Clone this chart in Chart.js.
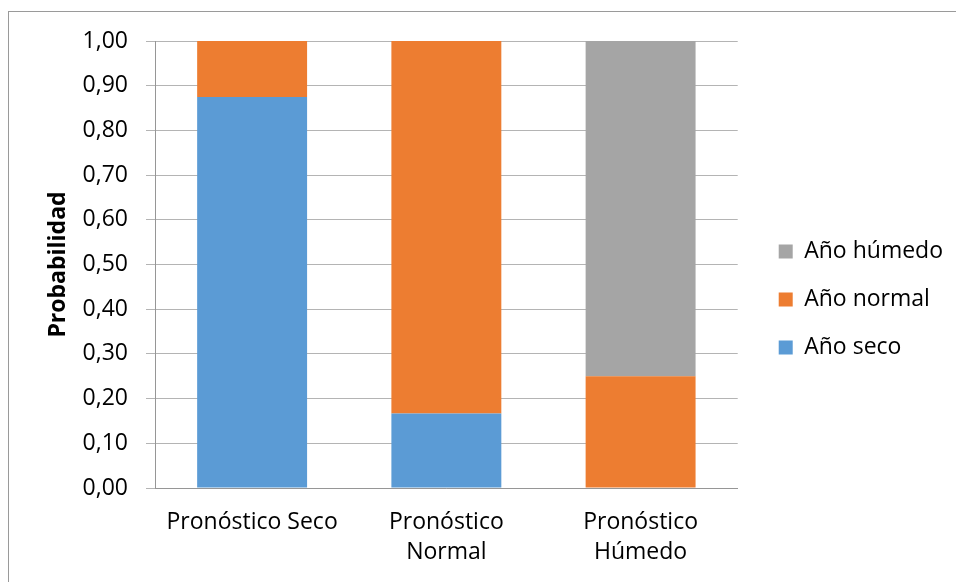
<!DOCTYPE html>
<html lang="es">
<head>
    <meta charset="UTF-8">
    <script src="https://cdn.jsdelivr.net/npm/chart.js"></script>
    <style>
        body { margin: 0; background: #fff; }
        #wrap { position: relative; width: 956px; height: 582px; }
        /* thin frame around the chart area, as in the spreadsheet export */
        #frame {
            position: absolute; left: 8px; top: 11px; right: -2px; bottom: -2px;
            border-left: 1px solid #9a9a9a; border-top: 1px solid #9a9a9a;
        }
        #chart { position: absolute; left: 0; top: 0; }
    </style>
</head>
<body>
<div id="wrap">
    <div id="frame"></div>
    <canvas id="chart" width="956" height="582"></canvas>
</div>
<script>
    // Categorias del pronostico
    const categorias = ['Pronóstico Seco', ['Pronóstico', 'Normal'], ['Pronóstico', 'Húmedo']];

    // Probabilidad de cada tipo de año segun el pronostico
    const anoSeco = [0.875, 0.1667, 0];
    const anoNormal = [0.125, 0.8333, 0.25];
    const anoHumedo = [0, 0, 0.75];

    const fuente = "'Open Sans', 'DejaVu Sans', sans-serif";
    Chart.defaults.font.family = fuente;
    Chart.defaults.font.size = 23;
    Chart.defaults.color = '#000';

    // hidden spacer axes, only used to push the plot away from the top and from the legend
    const espaciador = (lado, tam) => ({
        type: lado === 'top' ? 'category' : 'linear',
        axis: lado === 'top' ? 'x' : 'y',
        position: lado,
        display: false,
        afterFit: (scale) => {
            if (lado === 'top') scale.height = tam; else scale.width = tam;
        }
    });

    new Chart(document.getElementById('chart'), {
        type: 'bar',
        data: {
            labels: categorias,
            datasets: [
                { label: 'Año seco', data: anoSeco, backgroundColor: '#5b9bd5' },
                { label: 'Año normal', data: anoNormal, backgroundColor: '#ed7d31' },
                { label: 'Año húmedo', data: anoHumedo, backgroundColor: '#a5a5a5' }
            ]
        },
        options: {
            responsive: false,
            animation: false,
            layout: { padding: { left: 0, top: 17, right: 3, bottom: 0 } },
            datasets: {
                bar: { categoryPercentage: 1, barPercentage: 0.566 }
            },
            plugins: {
                tooltip: { enabled: false },
                legend: {
                    position: 'right',
                    reverse: true,
                    labels: {
                        boxWidth: 14,
                        boxHeight: 14,
                        padding: 25,
                        font: { size: 23 }
                    }
                }
            },
            scales: {
                x: {
                    stacked: true,
                    grid: { display: false, drawTicks: false },
                    border: { display: true, color: '#969696', width: 1 },
                    ticks: { padding: 20, font: { size: 23, lineHeight: 1.3 }, maxRotation: 0, autoSkip: false },
                    afterFit: (scale) => { scale.height = 582 - 488; }
                },
                y: {
                    stacked: true,
                    min: 0,
                    max: 1,
                    ticks: {
                        stepSize: 0.1,
                        padding: 18,
                        callback: (v) => v.toFixed(2).replace('.', ',')
                    },
                    grid: { color: '#b4b4b4', tickLength: 9, tickColor: '#b4b4b4' },
                    border: { display: true, color: '#969696', width: 1 },
                    title: {
                        display: true,
                        text: 'Probabilidad',
                        font: { size: 23, weight: 'bold' },
                        padding: { top: 45, bottom: 0 }
                    },
                    afterFit: (scale) => { scale.width = 155; }
                },
                arriba: espaciador('top', 24),
                derecha: espaciador('right', 16)
            }
        }
    });
</script>
</body>
</html>
